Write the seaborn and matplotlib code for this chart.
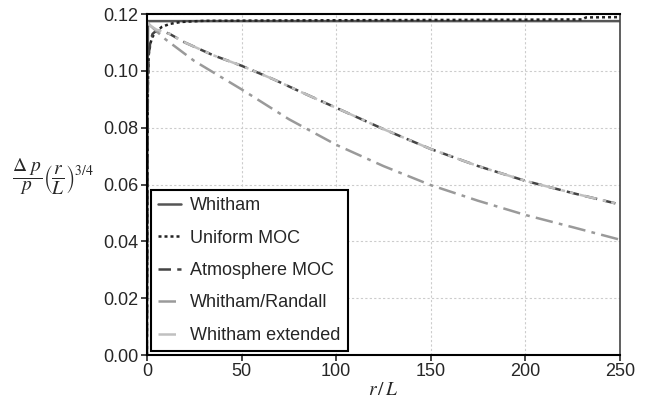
import numpy as np
import pandas as pd
import matplotlib
matplotlib.use("Agg")
import matplotlib.pyplot as plt
import seaborn as sns

# values
whitham_x = [0, 0.3, 0.6, 5, 50, 100, 150, 200, 250]
whitham_y = [0.0, 0.09, 0.1175, 0.1175, 0.1175, 0.1175, 0.1175, 0.1175, 0.1175]

uniform_x = [0, 0.5, 1, 2, 3, 5, 8, 12, 18, 30, 60, 100, 150, 200, 230, 232, 250]
uniform_y = [0.0, 0.095, 0.106, 0.110, 0.112, 0.114, 0.1155, 0.1165, 0.1172, 0.1176,
             0.1177, 0.1178, 0.1179, 0.1180, 0.1181, 0.1188, 0.1189]

atmos_x = [0, 0.5, 1, 2, 3, 5, 8, 12, 20, 35, 50, 67, 80, 100, 125, 150, 175, 200, 225, 250]
atmos_y = [0.0, 0.095, 0.106, 0.111, 0.1130, 0.1142, 0.1140, 0.1130, 0.1100, 0.1055,
           0.1018, 0.0970, 0.0930, 0.0870, 0.0795, 0.0725, 0.0665, 0.0613, 0.0570, 0.0530]

randall_x = [0, 5, 10, 25, 50, 75, 100, 125, 150, 175, 200, 225, 250]
randall_y = [0.1170, 0.1140, 0.1110, 0.1035, 0.0935, 0.0830, 0.0740, 0.0665, 0.0598,
             0.0543, 0.0493, 0.0450, 0.0406]

extended_x = [0, 2, 5, 8, 12, 20, 35, 50, 67, 80, 100, 125, 150, 175, 200, 225, 250]
extended_y = [0.1172, 0.1158, 0.1145, 0.1138, 0.1130, 0.1100, 0.1055, 0.1018, 0.0970,
              0.0930, 0.0870, 0.0795, 0.0725, 0.0665, 0.0613, 0.0570, 0.0530]

series = [
    ("Whitham", whitham_x, whitham_y, "#555555", "-"),
    ("Uniform MOC", uniform_x, uniform_y, "#222222", (0, (1.2, 1.2))),
    ("Atmosphere MOC", atmos_x, atmos_y, "#444444", (0, (5, 2.5))),
    ("Whitham/Randall", randall_x, randall_y, "#9a9a9a", (0, (7, 2.5, 1.5, 2.5))),
    ("Whitham extended", extended_x, extended_y, "#c0c0c0", (0, (7, 2.5, 1.5, 2, 1.5, 2.5))),
]

sns.set_style("ticks")
plt.rcParams['font.family'] = ['Liberation Sans', 'DejaVu Sans']
plt.rcParams['mathtext.fontset'] = 'stix'

fig = plt.figure(figsize=(6.5, 4.12), dpi=100)
ax = fig.add_axes([0.226, 0.138, 0.728, 0.828])

for name, xs, ys, color, ls in series:
    df = pd.DataFrame({"x": xs, "y": ys})
    sns.lineplot(data=df, x="x", y="y", ax=ax, color=color, linestyle=ls,
                 linewidth=1.8, label=name, sort=False)

ax.set_xlim(0, 250)
ax.set_ylim(0, 0.12)
ax.set_xticks([0, 50, 100, 150, 200, 250])
ax.set_yticks([0.0, 0.02, 0.04, 0.06, 0.08, 0.10, 0.12])
ax.set_yticklabels(["0.00", "0.02", "0.04", "0.06", "0.08", "0.10", "0.12"])
ax.tick_params(labelsize=13, length=4, width=1.2, direction="out", pad=2)
ax.grid(True, color="#cccccc", linestyle=(0, (2, 2)), linewidth=0.8)

for side in ["left", "bottom", "top"]:
    ax.spines[side].set_color("black")
    ax.spines[side].set_linewidth(1.5)
ax.spines["right"].set_color("#444444")
ax.spines["right"].set_linewidth(1.2)

ax.set_xlabel(r"$r\,/\,L$", fontsize=14, labelpad=1)
ax.set_ylabel("")
fig.text(0.082, 0.57, r"$\dfrac{\Delta\ p}{p}\left(\dfrac{r}{L}\right)^{3/4}$",
         fontsize=14, ha="center", va="center")

leg = ax.legend(loc="lower left", bbox_to_anchor=(0.008, 0.012), fontsize=13,
                frameon=True, fancybox=False, framealpha=1, edgecolor="black",
                handlelength=1.3, handletextpad=0.5, labelspacing=0.85,
                borderpad=0.4, borderaxespad=0)
leg.get_frame().set_linewidth(1.5)

fig.savefig("out.png", dpi=100)
